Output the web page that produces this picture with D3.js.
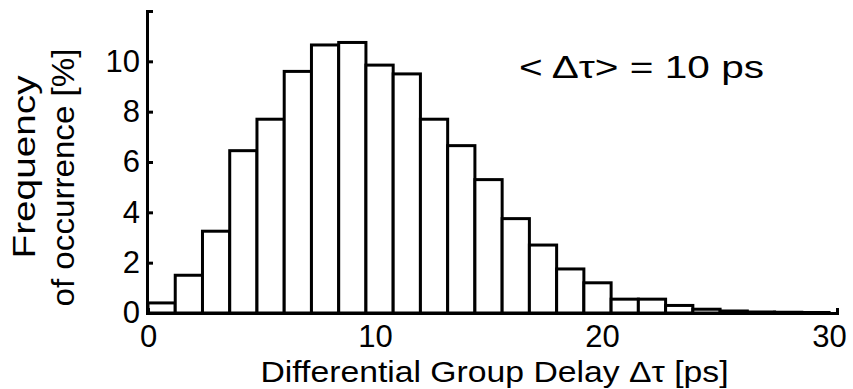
<!DOCTYPE html>
<html>
<head>
<meta charset="utf-8">
<script src="https://cdn.jsdelivr.net/npm/d3@7"></script>
<style>
  html, body { margin: 0; padding: 0; background: #fff; }
  svg { display: block; }
  text { font-family: "Liberation Sans", Arial, Helvetica, sans-serif; fill: #000; }
</style>
</head>
<body>
<svg id="chart" width="853" height="389"></svg>
<script>
// Histogram of differential group delay, bins of 1.2 ps starting at 0
const binWidth = 1.2;
const frequencies = [0.4, 1.5, 3.25, 6.45, 7.7, 9.6, 10.65, 10.75, 9.85, 9.5,
                     7.7, 6.65, 5.3, 3.75, 2.7, 1.75, 1.2, 0.55, 0.55, 0.3,
                     0.15, 0.08, 0.04, 0.03, 0.02];
const xTicks = [0, 10, 20, 30];
const yTicks = [0, 2, 4, 6, 8, 10];
const xDomain = [0, 30.35];
const yDomain = [0, 12];

const bins = frequencies.map((v, i) => ({ x0: i * binWidth, x1: (i + 1) * binWidth, v }));

const svg = d3.select("#chart");

const x = d3.scaleLinear().domain(xDomain).range([148, 837]);
const y = d3.scaleLinear().domain(yDomain).range([313, 11]);

// bars
svg.append("g")
  .selectAll("rect")
  .data(bins)
  .join("rect")
  .attr("x", d => x(d.x0))
  .attr("y", d => y(d.v))
  .attr("width", d => x(d.x1) - x(d.x0))
  .attr("height", d => y(0) - y(d.v))
  .attr("fill", "#fff")
  .attr("stroke", "#000")
  .attr("stroke-width", 3);

// x axis: outer tick turned up into the plot
const xAxis = svg.append("g")
  .attr("transform", `translate(0,${y(0)})`)
  .call(d3.axisBottom(x).tickValues(xTicks).tickSizeInner(0).tickSizeOuter(-5).tickPadding(12));
xAxis.select(".domain").attr("stroke-width", 3);
xAxis.selectAll(".tick text").attr("font-size", 31).attr("font-family", null);

// y axis: ticks point inward
const yAxis = svg.append("g")
  .attr("transform", `translate(${x(0) - 1},0)`)
  .call(d3.axisLeft(y).tickValues(yTicks).tickSizeInner(-6).tickSizeOuter(-6).tickPadding(7));
yAxis.select(".domain").attr("stroke-width", 3);
yAxis.selectAll(".tick line").attr("stroke-width", 3);
yAxis.selectAll(".tick text").attr("font-size", 31).attr("font-family", null);

// axis titles and annotation use a slightly wide setting
function wideText(sel, len) {
  sel.attr("textLength", len).attr("lengthAdjust", "spacingAndGlyphs");
}

svg.append("text")
  .attr("x", 494.5).attr("y", 382)
  .attr("text-anchor", "middle")
  .attr("font-size", 30)
  .text("Differential Group Delay \u0394\u03C4 [ps]")
  .call(wideText, 468);

svg.append("text")
  .attr("transform", "translate(35,167) rotate(-90)")
  .attr("text-anchor", "middle")
  .attr("font-size", 31)
  .text("Frequency")
  .call(wideText, 183);

svg.append("text")
  .attr("transform", "translate(74,177.5) rotate(-90)")
  .attr("text-anchor", "middle")
  .attr("font-size", 31)
  .text("of occurrence [%]")
  .call(wideText, 258);

svg.append("text")
  .attr("x", 519).attr("y", 78)
  .attr("font-size", 32)
  .text("< \u0394\u03C4> = 10 ps")
  .call(wideText, 245);
</script>
</body>
</html>
